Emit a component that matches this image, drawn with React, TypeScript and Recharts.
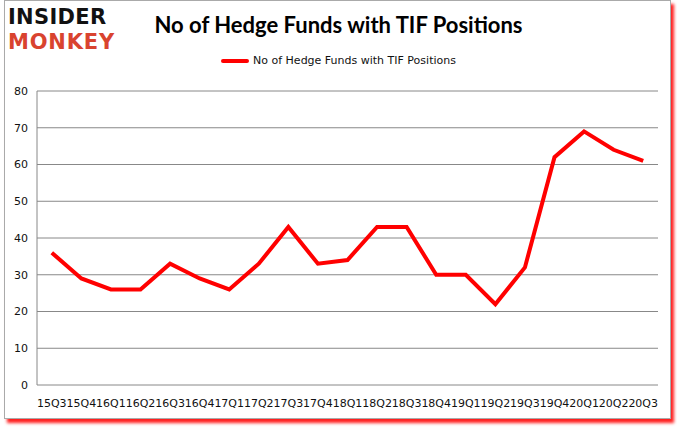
import { CartesianGrid, Line, LineChart, XAxis, YAxis } from "recharts";

const quarters = [
  "15Q3", "15Q4", "16Q1", "16Q2", "16Q3", "16Q4", "17Q1", "17Q2", "17Q3", "17Q4", "18Q1",
  "18Q2", "18Q3", "18Q4", "19Q1", "19Q2", "19Q3", "19Q4", "20Q1", "20Q2", "20Q3",
];
const funds = [36, 29, 26, 26, 33, 29, 26, 33, 43, 33, 34, 43, 43, 30, 30, 22, 32, 62, 69, 64, 61];
const yTicks = [0, 10, 20, 30, 40, 50, 60, 70, 80];
const seriesName = "No of Hedge Funds with TIF Positions";

const data = quarters.map((q, i) => ({ i, q, v: funds[i] }));
const boundaries = quarters.map((_, i) => i - 0.5).concat(quarters.length - 0.5);

const font = "'DejaVu Sans', sans-serif";

export default function App() {
  return (
    <div style={{ position: "fixed", left: 0, top: 0, width: 677, height: 431, background: "#fff", overflow: "hidden" }}>
      <div
        style={{
          position: "absolute",
          left: 4,
          top: 0,
          width: 665,
          height: 417,
          border: "1px solid #aaa",
          boxShadow: "3px 4px 3px #ff2020",
          background: "#fff",
        }}
      />
      {/* logo */}
      <div style={{ position: "absolute", left: 8, top: 5, fontFamily: font, fontWeight: 900, fontSize: 21, lineHeight: "25px" }}>
        <div style={{ color: "#111", letterSpacing: 0.3 }}>INSIDER</div>
        <div style={{ color: "#d9432f", letterSpacing: 0.8 }}>MONKEY</div>
      </div>
      <div
        style={{
          position: "absolute",
          left: 0,
          width: 677,
          top: 11,
          textAlign: "center",
          fontFamily: "Lato, sans-serif",
          fontWeight: 700,
          fontSize: 22,
          color: "#000",
        }}
      >
        {seriesName}
      </div>
      <div
        style={{
          position: "absolute",
          left: 0,
          width: 677,
          top: 54,
          display: "flex",
          justifyContent: "center",
          alignItems: "center",
          fontFamily: font,
          fontSize: 11,
          color: "#111",
        }}
      >
        <span style={{ display: "inline-block", width: 28, height: 4, background: "#ff0000", borderRadius: 2, marginRight: 4 }} />
        {seriesName}
      </div>
      <div style={{ position: "absolute", left: 0, top: 0 }}>
        <LineChart width={677} height={431} data={data} margin={{ top: 91, right: 19, bottom: 21, left: 0 }}>
          <CartesianGrid stroke="#888" vertical={false} />
          <XAxis
            xAxisId="n"
            type="number"
            dataKey="i"
            domain={[-0.5, quarters.length - 0.5]}
            ticks={boundaries}
            tick={false}
            tickSize={5}
            stroke="#888"
            height={0}
          />
          <XAxis
            xAxisId="c"
            dataKey="q"
            type="category"
            scale="band"
            interval={0}
            axisLine={false}
            tickLine={false}
            tickMargin={8}
            height={25}
            tick={{ fill: "#111", fontSize: 11, fontFamily: font }}
          />
          <YAxis
            domain={[0, 80]}
            ticks={yTicks}
            width={37}
            tickLine={false}
            tickSize={0}
            tickMargin={9}
            stroke="#888"
            tick={{ fill: "#111", fontSize: 11, fontFamily: font }}
          />
          <Line
            xAxisId="n"
            dataKey="v"
            name={seriesName}
            stroke="#ff0000"
            strokeWidth={4}
            dot={false}
            isAnimationActive={false}
          />
        </LineChart>
      </div>
    </div>
  );
}
